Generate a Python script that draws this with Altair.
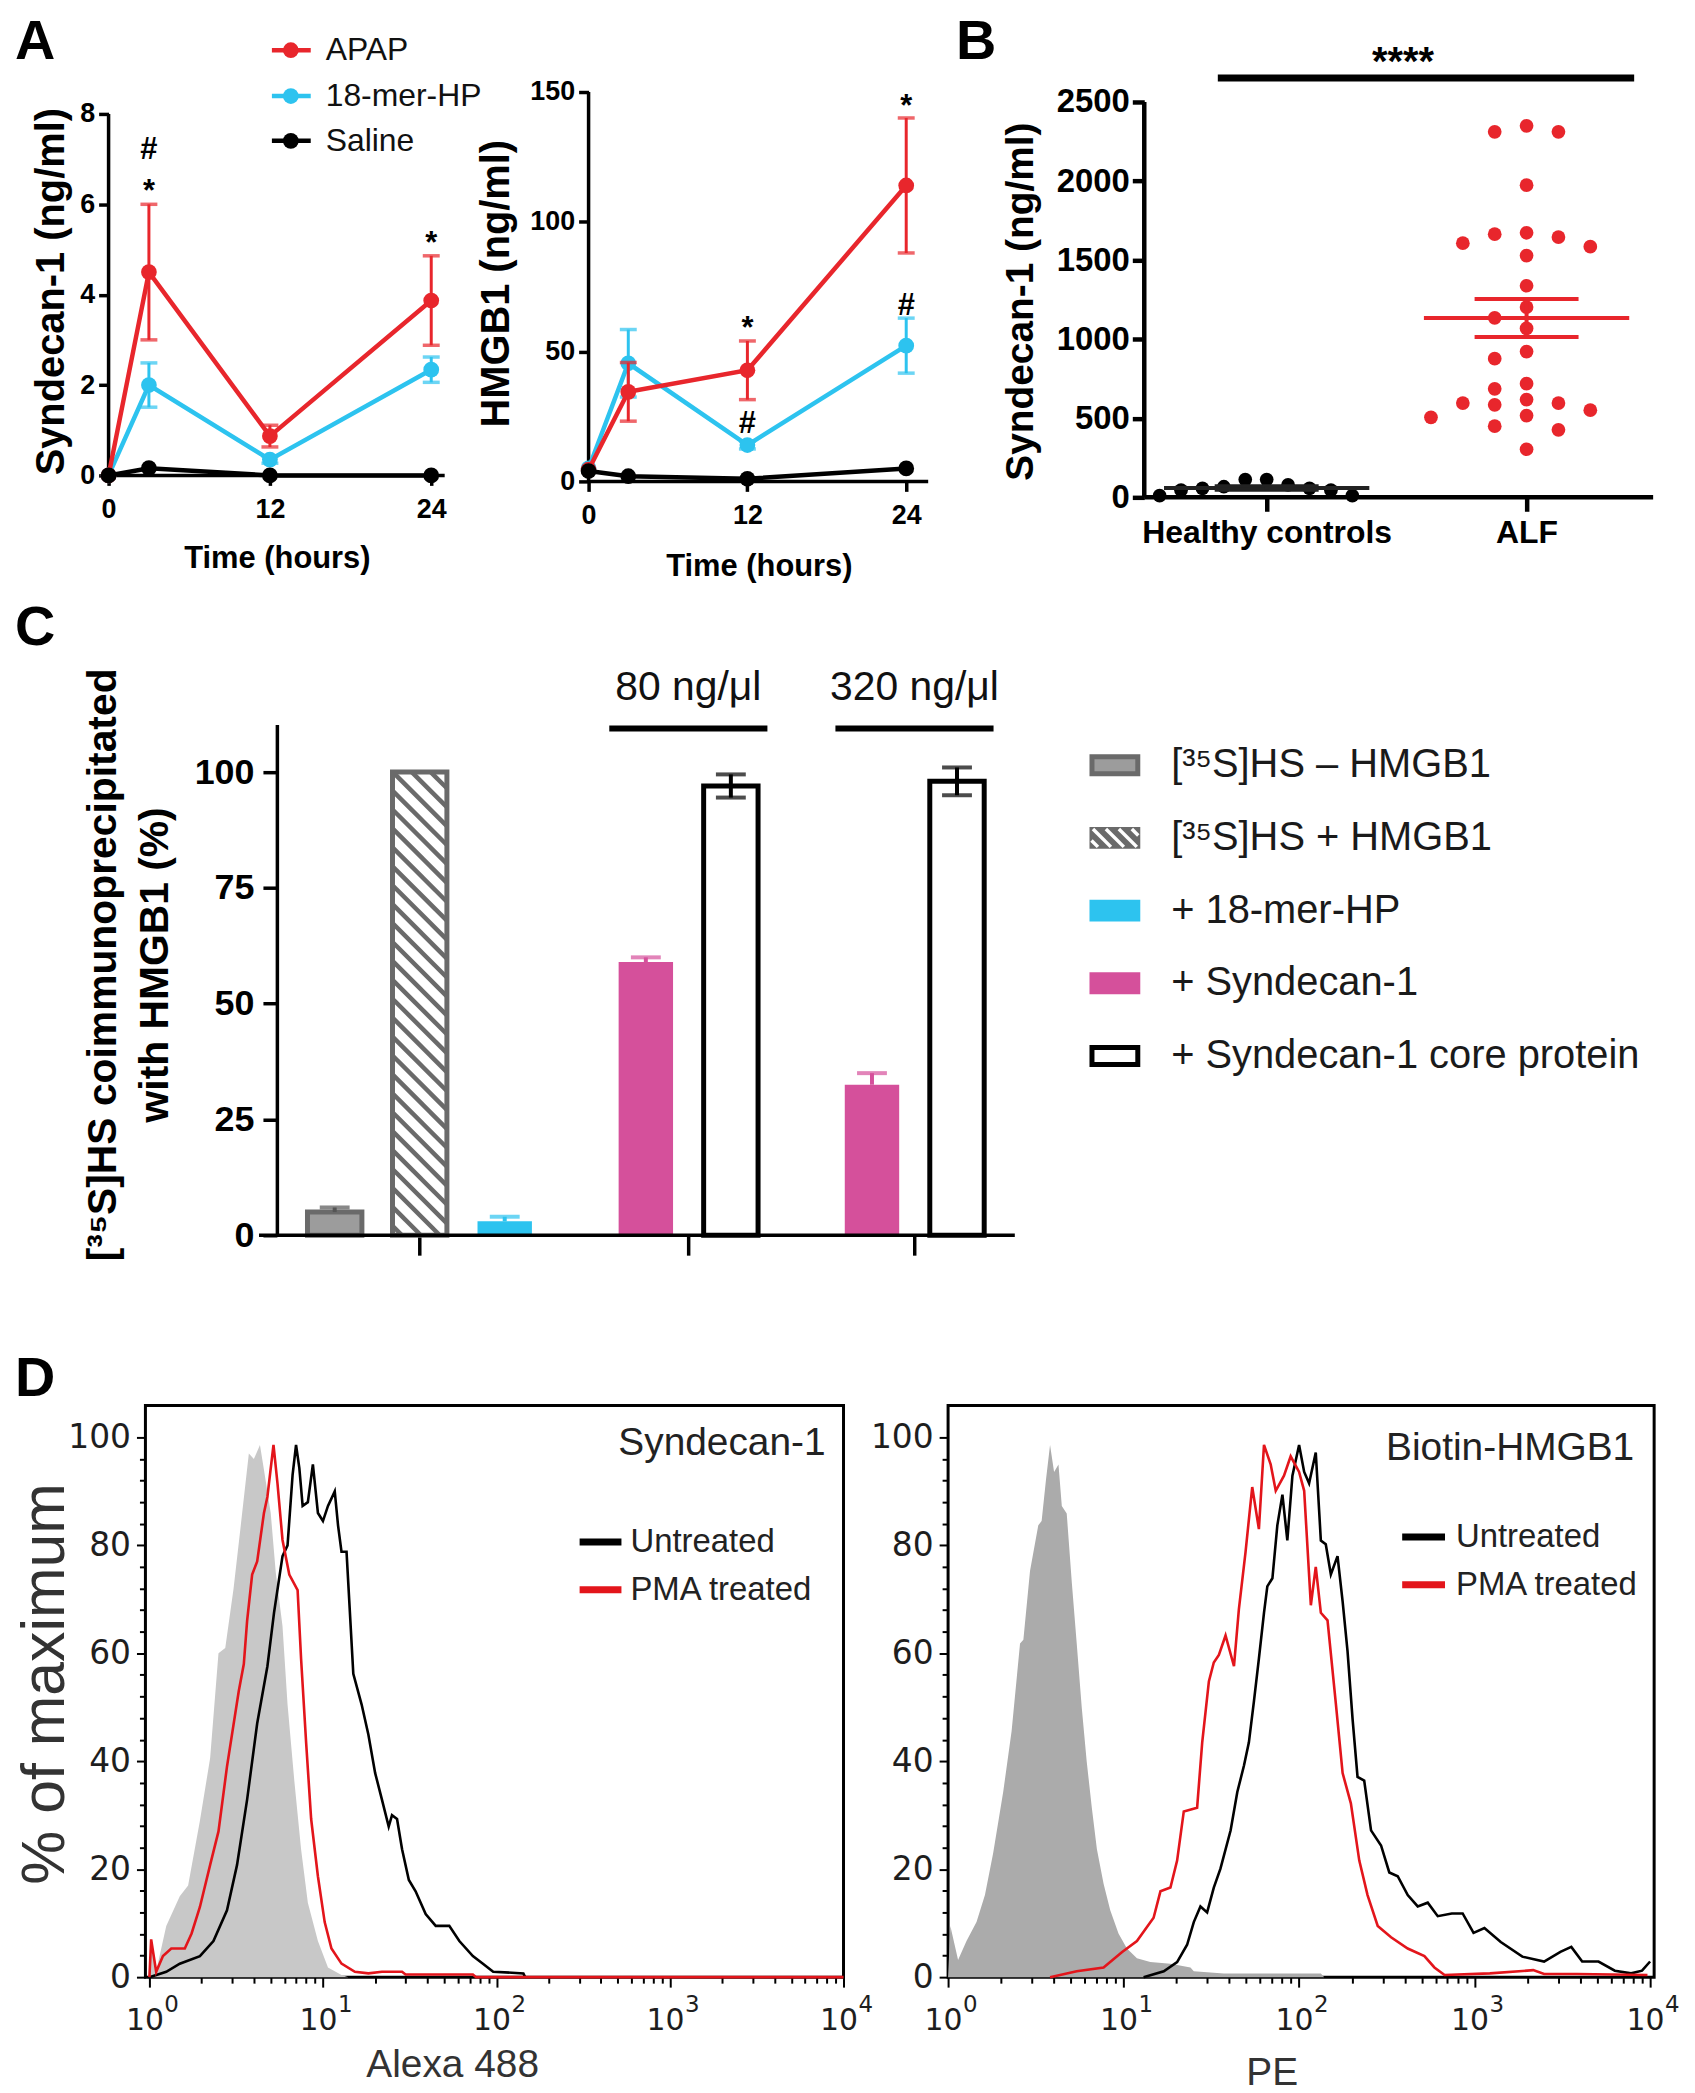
import altair as alt
import numpy as np
import pandas as pd

FONT = "Liberation Sans, Arial, Helvetica, sans-serif"
NARROW = "Liberation Sans Narrow, Arial Narrow, Liberation Sans, sans-serif"
WIDE = "DejaVu Sans, Verdana, sans-serif"

RED = "#E8262C"
CYAN = "#2DC3EF"
MAGENTA = "#D5509B"
GREY_EDGE = "#6A6A6A"
GREY_FILL = "#9C9C9C"
INK = "#1E1E1E"

# ---------------- Panel A : mouse time course ----------------
time_h = [0, 3, 12, 24]
a_groups = ["APAP", "18-mer-HP", "Saline"]

syn_apap = [0.0, 4.5, 0.87, 3.87]
syn_apap_sem = [0.0, 1.5, 0.24, 0.99]
syn_hp = [0.0, 2.0, 0.35, 2.34]
syn_hp_sem = [0.0, 0.49, 0.08, 0.28]
syn_saline = [0.0, 0.16, 0.0, 0.0]
syn_saline_sem = [0.0, 0.0, 0.0, 0.0]

hmgb1_apap = [4.5, 34.5, 42.8, 114.0]
hmgb1_apap_sem = [0.0, 11.3, 11.3, 26.0]
hmgb1_hp = [5.0, 45.5, 14.0, 52.3]
hmgb1_hp_sem = [0.0, 13.0, 1.5, 10.6]
hmgb1_saline = [4.0, 2.0, 1.0, 5.0]
hmgb1_saline_sem = [0.0, 0.0, 0.0, 0.0]

syn_sig_t = [3, 3, 24]
syn_sig_y = [7.17, 6.38, 5.24]
syn_sig_txt = ["#", "*", "*"]
hmgb1_sig_t = [12, 12, 24, 24]
hmgb1_sig_y = [60.5, 21.6, 146.0, 67.3]
hmgb1_sig_txt = ["*", "#", "*", "#"]

# ---------------- Panel B : patients ----------------
b_groups = ["Healthy controls", "ALF"]
healthy_syn = [45, 112, 67, 112, 11, 79, 45, 56, 11, 56]
alf_syn = [2311, 2349, 2311, 1974, 1646, 1607, 1664, 1585, 1673, 1529, 1338, 1135,
           1203, 1068, 922, 877, 719, 686, 551, 596, 618, 585, 596, 517, 506, 450, 427, 304]

# ---------------- Panel C : co-immunoprecipitation ----------------
c_labels = ["[\u00b3\u2075S]HS \u2013 HMGB1", "[\u00b3\u2075S]HS + HMGB1", "+ 18-mer-HP",
            "+ Syndecan-1", "+ Syndecan-1 core protein"]
c_kind = [0, 1, 2, 3, 4, 3, 4]
c_group = [0, 0, 0, 1, 1, 2, 2]
c_mean = [5.0, 100.0, 3.0, 59.0, 97.0, 32.5, 98.0]
c_sem = [1.0, 0.0, 1.0, 1.0, 2.5, 2.5, 3.0]
c_dose_group = [1, 2]
c_dose_label = ["80 ng/\u03bcl", "320 ng/\u03bcl"]

# ---------------- Panel D : flow cytometry (x = log10 intensity, y = % of max) ----------------
d_decades = [0, 1, 2, 3, 4]
d_exponents = ["0", "1", "2", "3", "4"]
d1_iso_x = [0.0, 0.010, 0.039, 0.097, 0.175, 0.223, 0.291, 0.350, 0.398, 0.437, 0.485, 0.524, 0.573,
            0.602, 0.637, 0.660, 0.699, 0.728, 0.767, 0.796, 0.835, 0.874, 0.913, 0.971, 1.029, 1.107, 1.146]
d1_iso_y = [0, 6.7, 1.1, 9.5, 15.0, 17.0, 29.0, 40.6, 60.0, 61.0, 72.0, 83.0, 97.0,
            96.0, 98.6, 94.0, 86.0, 75.0, 65.0, 50.5, 36.4, 23.7, 13.8, 6.7, 1.8, 0.4, 0.0]
d1_unt_x = [0.0, 0.097, 0.175, 0.291, 0.369, 0.447, 0.505, 0.563, 0.621, 0.680, 0.718, 0.767, 0.796,
            0.825, 0.845, 0.864, 0.883, 0.913, 0.942, 0.971, 1.000, 1.029, 1.068, 1.087, 1.107, 1.136,
            1.175, 1.223, 1.262, 1.301, 1.340, 1.379, 1.398, 1.427, 1.456, 1.495, 1.534, 1.592, 1.650,
            1.728, 1.786, 1.864, 1.922, 1.981, 2.155, 2.165]
d1_unt_y = [0, 1.0, 2.5, 3.9, 6.7, 12.4, 20.8, 32.9, 47.0, 57.6, 67.5, 78.0, 80.0,
            93.0, 98.6, 94.3, 87.3, 88.0, 95.0, 86.0, 84.5, 87.3, 90.0, 83.7, 78.8, 78.8,
            56.2, 50.5, 44.9, 37.8, 32.9, 27.9, 30.0, 29.3, 23.7, 18.0, 15.9, 11.7, 9.5,
            9.5, 6.7, 3.9, 2.5, 1.0, 0.7, 0.0]
d1_pma_x = [0.0, 0.010, 0.039, 0.078, 0.126, 0.204, 0.243, 0.291, 0.350, 0.398, 0.447, 0.515, 0.544,
            0.563, 0.592, 0.621, 0.660, 0.680, 0.715, 0.738, 0.767, 0.806, 0.854, 0.874, 0.903, 0.932,
            0.971, 1.010, 1.049, 1.107, 1.184, 1.262, 1.340, 1.456, 1.476, 1.864, 1.883, 4.0]
d1_pma_y = [0, 7.0, 1.0, 3.9, 5.3, 5.3, 8.1, 13.0, 20.8, 27.0, 39.0, 53.0, 58.0,
            66.0, 74.6, 77.0, 86.0, 89.0, 98.6, 91.5, 81.0, 74.6, 71.7, 59.0, 43.5, 29.3,
            18.7, 10.2, 5.3, 2.5, 1.0, 0.7, 1.0, 1.0, 0.5, 0.5, 0.0, 0.0]

d2_iso_x = [0.0, 0.013, 0.057, 0.105, 0.162, 0.210, 0.257, 0.314, 0.362, 0.410, 0.429, 0.467, 0.514,
            0.533, 0.558, 0.581, 0.604, 0.629, 0.648, 0.676, 0.705, 0.733, 0.762, 0.790, 0.819, 0.848,
            0.886, 0.924, 0.971, 1.019, 1.076, 1.152, 1.267, 1.381, 1.400, 1.571, 2.124, 2.143]
d2_iso_y = [0, 9.5, 3.2, 6.7, 10.2, 15.2, 23.0, 34.3, 45.6, 61.8, 62.5, 75.3, 83.7,
            84.5, 92.2, 98.6, 93.6, 95.0, 87.3, 85.9, 73.1, 61.8, 49.8, 39.9, 31.4, 23.7,
            17.3, 12.4, 8.1, 5.3, 3.5, 2.8, 2.5, 1.8, 1.1, 0.7, 0.7, 0.0]
d2_unt_x = [1.114, 1.229, 1.305, 1.362, 1.400, 1.438, 1.476, 1.514, 1.552, 1.610, 1.648, 1.686, 1.714,
            1.743, 1.771, 1.800, 1.819, 1.848, 1.876, 1.905, 1.933, 1.962, 2.000, 2.029, 2.057, 2.095,
            2.124, 2.152, 2.181, 2.219, 2.248, 2.276, 2.305, 2.333, 2.371, 2.410, 2.467, 2.514, 2.562,
            2.619, 2.676, 2.733, 2.790, 2.870, 2.932, 2.994, 3.056, 3.149, 3.272, 3.396, 3.489, 3.551,
            3.613, 3.706, 3.799, 3.892, 3.954, 4.0]
d2_unt_y = [0, 1.1, 2.8, 6.0, 10.2, 13.1, 12.0, 16.6, 20.1, 27.2, 34.3, 39.2, 43.5,
            51.2, 59.0, 67.5, 72.4, 73.9, 83.7, 89.4, 80.9, 92.9, 98.6, 93.6, 91.5, 97.2,
            80.9, 80.2, 74.6, 78.0, 69.6, 60.4, 47.7, 37.1, 36.4, 27.2, 24.4, 19.4, 18.7,
            15.2, 13.1, 13.8, 11.3, 11.8, 11.8, 8.2, 9.1, 6.5, 3.8, 2.9, 4.7, 5.6,
            2.9, 2.9, 1.2, 0.7, 1.2, 2.9]
d2_pma_x = [0.581, 0.733, 0.886, 0.990, 1.076, 1.171, 1.210, 1.267, 1.305, 1.343, 1.419, 1.448, 1.486,
            1.514, 1.543, 1.581, 1.629, 1.657, 1.695, 1.733, 1.771, 1.800, 1.838, 1.867, 1.914, 1.952,
            2.000, 2.029, 2.067, 2.095, 2.124, 2.162, 2.210, 2.248, 2.295, 2.343, 2.390, 2.448, 2.524,
            2.619, 2.714, 2.771, 2.829, 3.087, 3.334, 3.396, 3.582, 3.985]
d2_pma_y = [0, 1.1, 1.8, 4.6, 6.7, 11.0, 15.9, 16.6, 21.6, 30.7, 31.4, 43.5, 54.8,
            58.3, 59.7, 63.3, 57.6, 68.2, 78.8, 90.8, 83.0, 98.6, 95.0, 90.1, 92.9, 96.5,
            93.6, 90.1, 68.9, 76.0, 67.5, 66.1, 50.5, 37.8, 32.2, 21.6, 15.2, 9.5, 7.4,
            5.3, 3.9, 1.8, 0.4, 0.7, 1.3, 0.6, 0.6, 0.4]
d_series = ["Untreated", "PMA treated"]

ONE = pd.DataFrame({"k": [0]})


def txt(text, x, y, size, weight="normal", font=FONT, align="left", baseline="alphabetic",
        color="black", opacity=1.0):
    return alt.Chart(ONE).mark_text(text=text, fontSize=size, fontWeight=weight, font=font, align=align,
                                    baseline=baseline, color=color, opacity=opacity).encode(
        x=alt.value(x), y=alt.value(y))


def spacer(letter, width, y):
    return alt.layer(txt(letter, 0, y, 56, weight="bold")).properties(width=width, height=10)


# ======================= Panel A =======================
A_COLORS = {"APAP": RED, "18-mer-HP": CYAN, "Saline": "black"}


def panel_a(means, sems, sig_t, sig_y, sig_txt, width, height, xmax, ymax, yticks, x_end, y_top,
            ytitle, ytitle_xy, xtitle_xy, extra):
    rows = []
    for g in a_groups:
        for t, m, s in zip(time_h, means[g], sems[g]):
            rows.append({"group": g, "t": t, "v": m, "lo": m - s, "hi": m + s, "sem": s})
    df = pd.DataFrame(rows)
    sig = pd.DataFrame({"t": sig_t, "y": sig_y, "txt": sig_txt})
    xs = alt.Scale(domain=[0, xmax], nice=False, zero=False)
    ys = alt.Scale(domain=[0, ymax], nice=False, zero=False)
    xax = alt.Axis(values=[0, 12, 24], domain=False, grid=False, tickSize=10, tickWidth=3.5,
                   tickColor="black", labelFont=FONT, labelFontSize=27, labelFontWeight="bold",
                   labelColor="black", labelPadding=11, labelFlush=False, labelOverlap=False,
                   title="Time (hours)", titleFont=FONT, titleFontSize=31, titleFontWeight="bold",
                   titleColor="black", titleX=xtitle_xy[0], titleY=xtitle_xy[1], titleAngle=0,
                   titleAlign="center", titleBaseline="middle")
    yax = alt.Axis(values=yticks, domain=False, grid=False, tickSize=10, tickWidth=3.5,
                   tickColor="black", labelFont=FONT, labelFontSize=27, labelFontWeight="bold",
                   labelColor="black", labelPadding=4, labelOverlap=False,
                   title=ytitle, titleFont=FONT, titleFontSize=40, titleFontWeight="bold",
                   titleColor="black", titleX=ytitle_xy[0], titleY=ytitle_xy[1], titleAngle=270,
                   titleAlign="center", titleBaseline="middle")

    def X(f):
        return alt.X(f, type="quantitative", scale=xs, axis=xax)

    def Y(f):
        return alt.Y(f, type="quantitative", scale=ys, axis=yax)

    axes_df = pd.DataFrame({"x": [0.0, 0.0], "x2": [x_end, 0.0], "y": [0.0, 0.0], "y2": [0.0, y_top]})
    layers = [alt.Chart(axes_df).mark_rule(color="black", strokeWidth=3.5).encode(
        x=X("x"), x2="x2", y=Y("y"), y2="y2")]
    for g in ["18-mer-HP", "APAP", "Saline"]:
        c = A_COLORS[g]
        base = alt.Chart(df).transform_filter(alt.datum.group == g)
        eb = base.transform_filter(alt.datum.sem > 0)
        layers += [
            eb.mark_rule(color=c, strokeWidth=3).encode(x=X("t"), y=Y("lo"), y2="hi"),
            eb.mark_tick(color=c, orient="horizontal", size=17, thickness=3.5).encode(x=X("t"), y=Y("hi")),
            eb.mark_tick(color=c, orient="horizontal", size=17, thickness=3.5).encode(x=X("t"), y=Y("lo")),
            base.mark_line(color=c, strokeWidth=4.5).encode(x=X("t"), y=Y("v")),
            base.mark_circle(color=c, size=250, opacity=1).encode(x=X("t"), y=Y("v")),
        ]
    for sym, dy in (("*", 14), ("#", 8)):
        layers.append(alt.Chart(sig).transform_filter(alt.datum.txt == sym).mark_text(
            font=FONT, fontSize=31, fontWeight="bold", color="black", baseline="alphabetic", dy=dy
        ).encode(x=X("t"), y=Y("y"), text="txt:N"))
    layers += extra
    return alt.layer(*layers).properties(width=width, height=height)


legend_a = []
for g, ly in zip(a_groups, [-42, 4, 49]):
    c = A_COLORS[g]
    legend_a += [
        alt.Chart(ONE).mark_rule(color=c, strokeWidth=4.5).encode(
            x=alt.value(164), x2=alt.value(203), y=alt.value(ly)),
        alt.Chart(ONE).mark_circle(color=c, size=250, opacity=1).encode(x=alt.value(183), y=alt.value(ly)),
        txt(g, 218, ly, 32, baseline="middle", color="#111111"),
    ]

A1_W, A1_PPH = 462, 13.5
A2_W, A2_PPH = 538, 13.29
panelA1 = panel_a(
    {"APAP": syn_apap, "18-mer-HP": syn_hp, "Saline": syn_saline},
    {"APAP": syn_apap_sem, "18-mer-HP": syn_hp_sem, "Saline": syn_saline_sem},
    syn_sig_t, syn_sig_y, syn_sig_txt,
    width=A1_W, height=385, xmax=A1_W / A1_PPH, ymax=8.485, yticks=[0, 2, 4, 6, 8], x_end=25, y_top=8,
    ytitle="Syndecan-1 (ng/ml)", ytitle_xy=(-57, 200), xtitle_xy=(169, 83),
    extra=legend_a)

panelA2 = panel_a(
    {"APAP": hmgb1_apap, "18-mer-HP": hmgb1_hp, "Saline": hmgb1_saline},
    {"APAP": hmgb1_apap_sem, "18-mer-HP": hmgb1_hp_sem, "Saline": hmgb1_saline_sem},
    hmgb1_sig_t, hmgb1_sig_y, hmgb1_sig_txt,
    width=A2_W, height=391, xmax=A2_W / A2_PPH, ymax=150, yticks=[0, 50, 100, 150], x_end=25.66, y_top=150,
    ytitle="HMGB1 (ng/ml)", ytitle_xy=(-92, 192), xtitle_xy=(171, 85), extra=[])

# ======================= Panel B =======================
B_W, B_H = 511, 407
B_XDOM = [-0.471, 1.487]
B_YDOM = [0, 2563]
B_XPPU = B_W / (B_XDOM[1] - B_XDOM[0])
B_YPPU = B_H / (B_YDOM[1] - B_YDOM[0])


def swarm(vals, step_px, dx_lim, dy_lim):
    order = sorted(range(len(vals)), key=lambda i: -vals[i])
    placed, offs = [], [0.0] * len(vals)
    slots = [0] + [s for k in range(1, 12) for s in (-k, k)]
    for i in order:
        y = vals[i] * B_YPPU
        x = 0.0
        for k in slots:
            x = k * step_px
            if all(not (abs(x - px) < dx_lim and abs(y - py) < dy_lim) for px, py in placed):
                break
        placed.append((x, y))
        offs[i] = x / B_XPPU
    return offs


b_pts = pd.DataFrame({
    "grp": [0] * len(healthy_syn) + [1] * len(alf_syn),
    "v": healthy_syn + alf_syn,
    "x": [0 + o for o in swarm(healthy_syn, 21.5, 20, 40)] + [1 + o for o in swarm(alf_syn, 16, 28, 15)],
})

ms_rows = []
for gi, vals in enumerate([healthy_syn, alf_syn]):
    m = float(np.mean(vals))
    s = float(np.std(vals, ddof=1) / np.sqrt(len(vals)))
    ms_rows += [
        {"grp": gi, "x": gi - 0.395, "x2": gi + 0.395, "y": m, "y2": m},
        {"grp": gi, "x": gi - 0.2, "x2": gi + 0.2, "y": m + s, "y2": m + s},
        {"grp": gi, "x": gi - 0.2, "x2": gi + 0.2, "y": m - s, "y2": m - s},
        {"grp": gi, "x": gi, "x2": gi, "y": m - s, "y2": m + s},
    ]
b_ms = pd.DataFrame(ms_rows)

bxs = alt.Scale(domain=B_XDOM, nice=False, zero=False)
bys = alt.Scale(domain=B_YDOM, nice=False, zero=False)
bxax = alt.Axis(values=[0, 1], labelExpr="datum.value == 0 ? 'Healthy controls' : 'ALF'",
                domain=False, grid=False, tickSize=14, tickWidth=4.5, tickColor="black",
                labelFont=FONT, labelFontSize=32, labelFontWeight="bold", labelColor="black",
                labelPadding=6, labelFlush=False, labelOverlap=False, labelLimit=0, title=None)
byax = alt.Axis(values=[0, 500, 1000, 1500, 2000, 2500], format="d", domain=False, grid=False, tickSize=12,
                tickWidth=4.5, tickColor="black", labelFont=FONT, labelFontSize=33, labelFontWeight="bold",
                labelColor="black", labelPadding=3, labelOverlap=False,
                title="Syndecan-1 (ng/ml)", titleFont=FONT, titleFontSize=39, titleFontWeight="bold",
                titleColor="black", titleX=-124, titleY=210, titleAngle=270, titleAlign="center",
                titleBaseline="middle")


def BX(f):
    return alt.X(f, type="quantitative", scale=bxs, axis=bxax)


def BY(f):
    return alt.Y(f, type="quantitative", scale=bys, axis=byax)


b_axes = pd.DataFrame({"x": [B_XDOM[0], B_XDOM[0]], "x2": [B_XDOM[1], B_XDOM[0]],
                       "y": [0.0, 0.0], "y2": [0.0, 2500.0]})
b_sig = pd.DataFrame({"x": [-0.188], "x2": [1.414], "y": [2651.0], "tx": [0.525], "t": ["****"]})

panelB = alt.layer(
    alt.Chart(b_axes).mark_rule(color="black", strokeWidth=4.5).encode(x=BX("x"), x2="x2", y=BY("y"), y2="y2"),
    alt.Chart(b_pts).transform_filter(alt.datum.grp == 0).mark_circle(color="black", size=190, opacity=1).encode(
        x=BX("x"), y=BY("v")),
    alt.Chart(b_pts).transform_filter(alt.datum.grp == 1).mark_circle(color=RED, size=190, opacity=1).encode(
        x=BX("x"), y=BY("v")),
    alt.Chart(b_ms).transform_filter(alt.datum.grp == 0).mark_rule(color="#222222", strokeWidth=4).encode(
        x=BX("x"), x2="x2", y=BY("y"), y2="y2"),
    alt.Chart(b_ms).transform_filter(alt.datum.grp == 1).mark_rule(color=RED, strokeWidth=4).encode(
        x=BX("x"), x2="x2", y=BY("y"), y2="y2"),
    alt.Chart(b_sig).mark_rule(color="black", strokeWidth=7).encode(x=BX("x"), x2="x2", y=BY("y")),
    alt.Chart(b_sig).mark_text(font=FONT, fontSize=40, fontWeight="bold", color="black",
                               baseline="alphabetic", dy=-3).encode(x=BX("tx"), y=BY("y"), text="t:N"),
    txt("B", -189, -33, 56, weight="bold"),
).properties(width=B_W, height=B_H)

# ======================= Panel C =======================
C_W, C_H = 741, 513
C_XDOM = [-0.68, 8.0]
C_YDOM = [0, 110.3]
C_XPPU = C_W / (C_XDOM[1] - C_XDOM[0])
C_YPPU = C_H / (C_YDOM[1] - C_YDOM[0])
GAP = 0.66
HALF = 0.32

c_pos = [i + GAP * g for i, g in enumerate(c_group)]
c_df = pd.DataFrame({
    "kind": c_kind, "grp": c_group, "pos": c_pos, "mean": c_mean, "sem": c_sem,
    "x0": [p - HALF for p in c_pos], "x1": [p + HALF for p in c_pos], "zero": [0.0] * len(c_pos),
    "top": [m + s for m, s in zip(c_mean, c_sem)], "bot": [m - s for m, s in zip(c_mean, c_sem)],
})
group_centres = [float(np.mean([p for p, g in zip(c_pos, c_group) if g == k])) for k in range(3)]
c_dose = pd.DataFrame({
    "label": c_dose_label,
    "cx": [group_centres[g] for g in c_dose_group],
    "x0": [group_centres[g] - 0.93 for g in c_dose_group],
    "x1": [group_centres[g] + 0.93 for g in c_dose_group],
    "ly": [109.4, 109.4], "ty": [115.5, 115.5],
})


def hatch_segments(x_left, x_right, y_bottom, y_top, xppu, yppu, period):
    W = (x_right - x_left) * xppu
    H = (y_top - y_bottom) * yppu
    segs = []
    c = period / 2.0
    while c < W + H:
        xa, xb = max(0.0, c - H), min(W, c)
        if xb > xa:
            segs.append({"x": x_left + xa / xppu, "x2": x_left + xb / xppu,
                         "y": y_bottom + (c - xa) / yppu, "y2": y_bottom + (c - xb) / yppu})
        c += period
    return segs


hatch_rows = []
for k, p, m in zip(c_kind, c_pos, c_mean):
    if k == 1:
        hatch_rows += hatch_segments(p - HALF, p + HALF, 0.0, m, C_XPPU, C_YPPU, 19.0)
c_hatch = pd.DataFrame(hatch_rows)

cxs = alt.Scale(domain=C_XDOM, nice=False, zero=False)
cys = alt.Scale(domain=C_YDOM, nice=False, zero=False)
cxax = alt.Axis(values=group_centres, labels=False, domain=False, grid=False, tickSize=20, tickWidth=3.5,
                tickColor="black", title=None)
cyax = alt.Axis(values=[0, 25, 50, 75, 100], domain=True, domainColor="black", domainWidth=3.5, grid=False,
                tickSize=14, tickWidth=3.5, tickColor="black", labelFont=FONT, labelFontSize=36,
                labelFontWeight="bold", labelColor="black", labelPadding=9, labelOverlap=False,
                title=["[\u00b3\u2075S]HS coimmunoprecipitated", "with HMGB1 (%)"], titleFont=FONT,
                titleFontSize=41, titleFontWeight="bold", titleColor="black", titleLineHeight=52,
                titleX=-174, titleY=241, titleAngle=270, titleAlign="center", titleBaseline="middle")


def CX(f):
    return alt.X(f, type="quantitative", scale=cxs, axis=cxax)


def CY(f):
    return alt.Y(f, type="quantitative", scale=cys, axis=cyax)


def c_bars(kind, **mk):
    return alt.Chart(c_df).transform_filter(alt.datum.kind == kind).mark_rect(**mk).encode(
        x=CX("x0"), x2="x1", y=CY("zero"), y2="mean")


c_axis_line = pd.DataFrame({"x": [-0.89], "x2": [C_XDOM[1]], "y": [0.0]})
err_color = {0: "#555555", 2: CYAN, 3: MAGENTA, 4: "black"}
c_layers = [
    c_bars(0, fill=GREY_FILL, stroke=GREY_EDGE, strokeWidth=5),
    c_bars(1, fill="white"),
    alt.Chart(c_hatch).mark_rule(color=GREY_EDGE, strokeWidth=4.5).encode(
        x=CX("x"), x2="x2", y=CY("y"), y2="y2"),
    c_bars(1, fillOpacity=0, stroke=GREY_EDGE, strokeWidth=5),
    c_bars(2, fill=CYAN),
    c_bars(3, fill=MAGENTA),
    c_bars(4, fill="white", stroke="black", strokeWidth=5),
]
for k, col in err_color.items():
    sub = alt.Chart(c_df).transform_filter(alt.datum.kind == k)
    low = "bot" if k == 4 else "mean"
    c_layers += [
        sub.mark_rule(color=col, strokeWidth=4).encode(x=CX("pos"), y=CY(low), y2="top"),
        sub.mark_tick(color=col, orient="horizontal", size=30, thickness=4).encode(x=CX("pos"), y=CY("top")),
    ]
    if k == 4:
        c_layers.append(sub.mark_tick(color=col, orient="horizontal", size=30, thickness=4).encode(
            x=CX("pos"), y=CY("bot")))
c_layers += [
    alt.Chart(c_axis_line).mark_rule(color="black", strokeWidth=3.5).encode(x=CX("x"), x2="x2", y=CY("y")),
    alt.Chart(c_dose).mark_rule(color="black", strokeWidth=6).encode(x=CX("x0"), x2="x1", y=CY("ly")),
    alt.Chart(c_dose).mark_text(font=FONT, fontSize=41, color="#111111", baseline="alphabetic").encode(
        x=CX("cx"), y=CY("ty"), text="label:N"),
    txt(".", 0, 600, 10, baseline="top", opacity=0),
]
panelC = alt.layer(*c_layers).properties(width=C_W, height=C_H)

# ---- Panel C legend ----
LC_W, LC_H = 560, 400
LC_STEP = 73.0
lc_top = -41.0 / LC_STEP
lc_bottom = lc_top + LC_H / LC_STEP
lxs = alt.Scale(domain=[0, LC_W], nice=False, zero=False)
lys = alt.Scale(domain=[lc_bottom, lc_top], nice=False, zero=False)


def LX(f):
    return alt.X(f, type="quantitative", scale=lxs, axis=None)


def LY(f):
    return alt.Y(f, type="quantitative", scale=lys, axis=None)


inset = {0: 2.5, 1: 2.0, 2: 0.0, 3: 0.0, 4: 2.5}
lc_df = pd.DataFrame({
    "row": list(range(len(c_labels))), "label": c_labels,
    "x0": [inset[i] for i in range(5)], "x1": [51 - inset[i] for i in range(5)],
    "y0": [i - (11 - inset[i]) / LC_STEP for i in range(5)],
    "y1": [i + (11 - inset[i]) / LC_STEP for i in range(5)],
})
lc_hatch = pd.DataFrame(hatch_segments(2.0, 49.0, 1 + 9 / LC_STEP, 1 - 9 / LC_STEP, 1.0, -LC_STEP, 13.0))


def lc_swatch(row, **mk):
    return alt.Chart(lc_df).transform_filter(alt.datum.row == row).mark_rect(**mk).encode(
        x=LX("x0"), x2="x1", y=LY("y0"), y2="y1")


panelCleg = alt.layer(
    lc_swatch(0, fill=GREY_FILL, stroke=GREY_EDGE, strokeWidth=5),
    lc_swatch(1, fill=GREY_EDGE, stroke=GREY_EDGE, strokeWidth=4),
    alt.Chart(lc_hatch).mark_rule(color="white", strokeWidth=3.5).encode(x=LX("x"), x2="x2", y=LY("y"), y2="y2"),
    lc_swatch(2, fill=CYAN),
    lc_swatch(3, fill=MAGENTA),
    lc_swatch(4, fill="white", stroke="black", strokeWidth=5),
    alt.Chart(lc_df).mark_text(font=FONT, fontSize=40, color="#1a1a1a", align="left", baseline="middle").encode(
        x=alt.value(82), y=LY("row"), text="label:N"),
).properties(width=LC_W, height=LC_H)

# ======================= Panel D =======================
D_H = 574
D_YDOM = [0, 105.9]
d_minor = [d + float(np.log10(k)) for d in range(4) for k in range(2, 10)]
d_xvals = sorted(d_decades + d_minor)
d_exp_df = pd.DataFrame({"d": d_decades, "e": d_exponents})


def panel_d(iso_x, iso_y, unt_x, unt_y, pma_x, pma_y, iso_color, width, xdom, xtitle, xtitle_xy,
            ytitle, marker, marker_x, marker_y, leg_x0, leg_x1, leg_tx, leg_y):
    iso = pd.DataFrame({"x": iso_x, "y": iso_y})
    unt = pd.DataFrame({"x": unt_x, "y": unt_y})
    pma = pd.DataFrame({"x": pma_x, "y": pma_y})
    xs = alt.Scale(domain=xdom, nice=False, zero=False)
    ys = alt.Scale(domain=D_YDOM, nice=False, zero=False)
    xax = alt.Axis(values=d_xvals, domain=False, grid=False, tickColor="black", tickWidth=2,
                   tickSize={"condition": {"test": "datum.value % 1 == 0", "value": 10}, "value": 6},
                   labelExpr="datum.value % 1 == 0 ? '10' : ''", labelOffset=-5,
                   labelFont=WIDE, labelFontSize=30, labelColor=INK, labelPadding=19,
                   labelOverlap=False, labelFlush=False,
                   title=xtitle, titleFont=NARROW, titleFontSize=39, titleFontWeight="normal",
                   titleColor="#333333", titleX=xtitle_xy[0], titleY=xtitle_xy[1], titleAngle=0,
                   titleAlign="center", titleBaseline="middle")
    yargs = dict(values=list(range(0, 101, 4)), domain=False, grid=False, tickColor="black", tickWidth=2,
                 tickSize={"condition": {"test": "datum.value % 20 == 0", "value": 9}, "value": 6},
                 labelExpr="datum.value % 20 == 0 ? datum.label : ''", labelFont=WIDE, labelFontSize=33,
                 labelColor=INK, labelPadding=6, labelOverlap=False, labelFlush=False)
    if ytitle:
        yargs.update(title=ytitle, titleFont=FONT, titleFontSize=61, titleFontWeight="normal",
                     titleColor="#333333", titleX=-100, titleY=279, titleAngle=270, titleAlign="center",
                     titleBaseline="middle")
    else:
        yargs.update(title=None)
    yax = alt.Axis(**yargs)

    def X(f):
        return alt.X(f, type="quantitative", scale=xs, axis=xax)

    def Y(f):
        return alt.Y(f, type="quantitative", scale=ys, axis=yax)

    layers = [
        alt.Chart(iso).mark_area(color=iso_color, opacity=1).encode(x=X("x"), y=Y("y")),
        alt.Chart(unt).mark_line(color="black", strokeWidth=2.6).encode(x=X("x"), y=Y("y")),
        alt.Chart(pma).mark_line(color="#E3151B", strokeWidth=2.6).encode(x=X("x"), y=Y("y")),
        alt.Chart(d_exp_df).mark_text(font=WIDE, fontSize=23, color=INK, align="left", baseline="middle",
                                      dx=15).encode(x=X("d"), y=alt.value(D_H + 28), text="e:N"),
        txt(marker, marker_x, marker_y, 39, font=NARROW, align="right", baseline="middle", color="#222222"),
    ]
    for name, col, ly in zip(d_series, ["black", "#E3151B"], leg_y):
        layers += [
            alt.Chart(ONE).mark_rule(color=col, strokeWidth=7).encode(
                x=alt.value(leg_x0), x2=alt.value(leg_x1), y=alt.value(ly)),
            txt(name, leg_tx, ly, 33, font=NARROW, baseline="middle", color="#222222"),
        ]
    return alt.layer(*layers).properties(
        width=width, height=D_H, view=alt.ViewBackground(stroke="black", strokeWidth=3))


panelD1 = panel_d(d1_iso_x, d1_iso_y, d1_unt_x, d1_unt_y, d1_pma_x, d1_pma_y, "#C8C8C8",
                  width=701, xdom=[-0.023, 4.0], xtitle="Alexa 488", xtitle_xy=(308, 88),
                  ytitle="% of maximum", marker="Syndecan-1", marker_x=683, marker_y=38,
                  leg_x0=436, leg_x1=478, leg_tx=487, leg_y=[137, 185])
panelD2 = panel_d(d2_iso_x, d2_iso_y, d2_unt_x, d2_unt_y, d2_pma_x, d2_pma_y, "#ABABAB",
                  width=709, xdom=[0.0, 4.023], xtitle="PE", xtitle_xy=(325, 96),
                  ytitle=None, marker="Biotin-HMGB1", marker_x=689, marker_y=43,
                  leg_x0=456, leg_x1=499, leg_tx=510, leg_y=[132, 180])

# ======================= Layout =======================
# every row starts at the same page x; its first cell is a spacer holding the panel letter
row1 = alt.hconcat(spacer("A", 74, -33), panelA1, panelA2, panelB, spacing=20, bounds="flush")
row2 = alt.hconcat(spacer("C", 188, -80), panelC, panelCleg, spacing=75, bounds="flush")
row3 = alt.hconcat(spacer("D", 26, -10), panelD1, panelD2, spacing=105, bounds="flush")

chart = alt.vconcat(row1, row2, row3, spacing=19).properties(
    padding={"left": 5, "top": 2, "right": 5, "bottom": 5}, background="white"
).configure_view(stroke=None)

chart.save("out.html", embed_options={"renderer": "svg", "actions": False})
